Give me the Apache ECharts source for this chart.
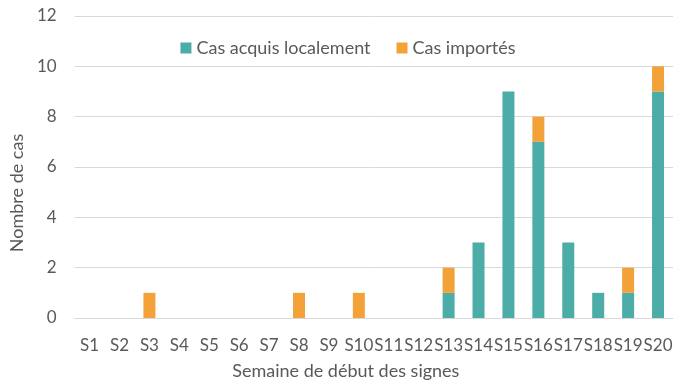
<!DOCTYPE html>
<html><head><meta charset="utf-8">
<script src="https://cdn.jsdelivr.net/npm/echarts@6/dist/echarts.min.js"></script>
<style>html,body{margin:0;padding:0;background:#fff}#c{width:696px;height:385px}</style>
</head><body><div id="c"></div>
<script>
const categories = ['S1','S2','S3','S4','S5','S6','S7','S8','S9','S10','S11','S12','S13','S14','S15','S16','S17','S18','S19','S20'];
const localCases = [0,0,0,0,0,0,0,0,0,0,0,0,1,3,9,7,3,1,1,9];
const importedCases = [0,0,1,0,0,0,0,1,0,1,0,0,1,0,0,1,0,0,1,1];
const seriesNames = ['Cas acquis localement','Cas importés'];
const font = 'Lato, "Open Sans", sans-serif';
const chart = echarts.init(document.getElementById('c'));
chart.setOption({
  animation:false,
  textStyle:{fontFamily:font},
  legend:{top:34,left:'center',itemWidth:11,itemHeight:11,itemGap:26,
    textStyle:{fontSize:18,color:'#595959',fontFamily:font},
    data:seriesNames.map(n=>({name:n,icon:'rect'}))},
  grid:{left:68,right:23,top:16,bottom:60,containLabel:false},
  xAxis:{type:'category',data:categories,
    axisLine:{lineStyle:{color:'#d9d9d9'}},axisTick:{show:false},
    axisLabel:{fontSize:17,color:'#595959',margin:19,interval:0,fontFamily:font},
    name:'Semaine de début des signes',nameLocation:'middle',nameGap:44,
    nameTextStyle:{fontSize:18,color:'#595959',fontFamily:font,padding:[0,56,0,0]}},
  yAxis:{type:'value',min:0,max:12,interval:2,
    axisLine:{show:false},axisTick:{show:false},
    splitLine:{lineStyle:{color:'#d9d9d9'}},
    axisLabel:{fontSize:17,color:'#595959',margin:18,fontFamily:font},
    name:'Nombre de cas',nameLocation:'middle',nameGap:40,
    nameTextStyle:{fontSize:18,color:'#595959',fontFamily:font,padding:[0,52,0,0]}},
  series:[
    {name:seriesNames[0],type:'bar',stack:'a',data:localCases,barWidth:12,itemStyle:{color:'#4BACA8'}},
    {name:seriesNames[1],type:'bar',stack:'a',data:importedCases,barWidth:12,itemStyle:{color:'#F3A23A'}}
  ]
});
</script></body></html>
